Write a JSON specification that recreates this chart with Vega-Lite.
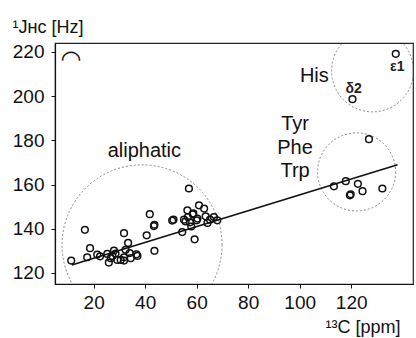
{
  "$schema": "https://vega.github.io/schema/vega-lite/v6.json",
  "width": 358,
  "height": 241,
  "autosize": {"type": "none"},
  "padding": {"left": 55, "top": 43, "right": 3, "bottom": 54},
  "background": "white",
  "config": {
    "view": {"stroke": "#222", "strokeWidth": 1.2},
    "font": "Liberation Sans",
    "axis": {
      "grid": false,
      "domainColor": "#111",
      "domainWidth": 1.2,
      "tickColor": "#111",
      "tickSize": 4,
      "labelFont": "Liberation Sans",
      "labelFontSize": 19,
      "labelColor": "#111",
      "titleFont": "Liberation Sans",
      "titleFontSize": 18,
      "titleFontWeight": "normal",
      "titleColor": "#111"
    }
  },
  "datasets": {
    "pts": [
      {"c": 11.3, "j": 125.6}, {"c": 16.6, "j": 139.5}, {"c": 18.6, "j": 131.2}, {"c": 17.5, "j": 127.1},
      {"c": 21.4, "j": 128.3}, {"c": 25.3, "j": 128.6}, {"c": 26.6, "j": 126.7}, {"c": 25.9, "j": 124.7},
      {"c": 27.9, "j": 130.1}, {"c": 27.3, "j": 127.7}, {"c": 29.2, "j": 125.9}, {"c": 31.8, "j": 138.0},
      {"c": 33.4, "j": 133.6}, {"c": 32.4, "j": 130.5}, {"c": 31.8, "j": 127.1}, {"c": 34.4, "j": 126.7},
      {"c": 37.0, "j": 127.7}, {"c": 36.6, "j": 128.4}, {"c": 30.5, "j": 125.9}, {"c": 31.8, "j": 125.6},
      {"c": 40.6, "j": 137.0}, {"c": 43.6, "j": 141.8}, {"c": 43.4, "j": 141.2}, {"c": 41.8, "j": 146.6},
      {"c": 43.6, "j": 130.0}, {"c": 50.5, "j": 143.7}, {"c": 51.0, "j": 144.1}, {"c": 54.4, "j": 138.5},
      {"c": 57.0, "j": 158.2}, {"c": 56.4, "j": 148.3}, {"c": 59.2, "j": 135.2}, {"c": 60.9, "j": 150.6},
      {"c": 62.9, "j": 149.1}, {"c": 58.5, "j": 146.5}, {"c": 56.6, "j": 145.3}, {"c": 55.7, "j": 143.3},
      {"c": 57.4, "j": 142.9}, {"c": 57.9, "j": 141.0}, {"c": 60.0, "j": 143.8}, {"c": 60.3, "j": 144.6},
      {"c": 63.5, "j": 145.6}, {"c": 64.2, "j": 142.6}, {"c": 65.2, "j": 144.1}, {"c": 66.7, "j": 145.3},
      {"c": 68.0, "j": 143.8}, {"c": 55.1, "j": 144.1}, {"c": 58.7, "j": 146.9}, {"c": 22.5, "j": 127.5},
      {"c": 28.5, "j": 128.8}, {"c": 34.0, "j": 129.0},
      {"c": 126.9, "j": 180.5}, {"c": 113.3, "j": 159.2}, {"c": 117.9, "j": 161.5}, {"c": 122.6, "j": 160.3},
      {"c": 119.5, "j": 155.1}, {"c": 119.8, "j": 155.6}, {"c": 124.4, "j": 157.0}, {"c": 132.1, "j": 158.2},
      {"c": 120.5, "j": 198.6}, {"c": 137.3, "j": 219.1}
    ],
    "circles": [
      {"group": "aliphatic", "c": 38.8, "j": 132.7},
      {"group": "aromatic", "c": 122.1, "j": 165.7},
      {"group": "his", "c": 128.3, "j": 211.4}
    ],
    "fit": [
      {"c": 11.5, "j": 123.6},
      {"c": 138.0, "j": 168.9}
    ],
    "labels": [
      {"kind": "big", "c": 39.7, "j": 175.1, "t": "aliphatic"},
      {"kind": "big", "c": 105.7, "j": 209.2, "t": "His"},
      {"kind": "big", "c": 98.2, "j": 187.3, "t": "Tyr"},
      {"kind": "big", "c": 98.2, "j": 176.4, "t": "Phe"},
      {"kind": "big", "c": 98.2, "j": 166.0, "t": "Trp"},
      {"kind": "small", "c": 137.9, "j": 213.0, "t": "ε1"},
      {"kind": "small", "c": 121.0, "j": 203.4, "t": "δ2"},
      {"kind": "panel", "c": 11.2, "j": 216.3, "t": "◠"}
    ]
  },
  "layer": [
    {
      "data": {"name": "circles"},
      "transform": [{"filter": "datum.group === 'aliphatic'"}],
      "mark": {"type": "point", "shape": "circle", "filled": false, "size": 25600, "stroke": "#555", "strokeWidth": 1, "strokeDash": [2, 2], "clip": true},
      "encoding": {
        "x": {"field": "c", "type": "quantitative", "scale": {"domain": [5, 144], "nice": false, "zero": false},
          "axis": {"values": [20, 40, 60, 80, 100, 120], "title": "¹³C [ppm]", "titleAnchor": "start", "titleAlign": "left", "titleX": 270, "titleY": 48, "titleBaseline": "alphabetic", "labelPadding": 5}},
        "y": {"field": "j", "type": "quantitative", "scale": {"domain": [115, 224], "nice": false, "zero": false},
          "axis": {"values": [120, 140, 160, 180, 200, 220], "title": "¹Jʜᴄ [Hz]", "titleAngle": 0, "titleAlign": "left", "titleX": -43, "titleY": -11, "titleBaseline": "alphabetic", "labelPadding": 7}}
      }
    },
    {
      "data": {"name": "circles"},
      "transform": [{"filter": "datum.group === 'aromatic'"}],
      "mark": {"type": "point", "shape": "circle", "filled": false, "size": 6100, "stroke": "#555", "strokeWidth": 1, "strokeDash": [2, 2], "clip": true},
      "encoding": {
        "x": {"field": "c", "type": "quantitative"},
        "y": {"field": "j", "type": "quantitative"}
      }
    },
    {
      "data": {"name": "circles"},
      "transform": [{"filter": "datum.group === 'his'"}],
      "mark": {"type": "point", "shape": "circle", "filled": false, "size": 6724, "stroke": "#555", "strokeWidth": 1, "strokeDash": [2, 2], "clip": true},
      "encoding": {
        "x": {"field": "c", "type": "quantitative"},
        "y": {"field": "j", "type": "quantitative"}
      }
    },
    {
      "data": {"name": "fit"},
      "mark": {"type": "line", "color": "#111", "strokeWidth": 1.6},
      "encoding": {
        "x": {"field": "c", "type": "quantitative"},
        "y": {"field": "j", "type": "quantitative"}
      }
    },
    {
      "data": {"name": "pts"},
      "mark": {"type": "point", "shape": "circle", "filled": false, "size": 45, "stroke": "#111", "strokeWidth": 1.5, "opacity": 1},
      "encoding": {
        "x": {"field": "c", "type": "quantitative"},
        "y": {"field": "j", "type": "quantitative"}
      }
    },
    {
      "data": {"name": "labels"},
      "transform": [{"filter": "datum.kind === 'big'"}],
      "mark": {"type": "text", "font": "Liberation Sans", "fontSize": 20, "color": "#111", "align": "center", "baseline": "middle"},
      "encoding": {
        "x": {"field": "c", "type": "quantitative"},
        "y": {"field": "j", "type": "quantitative"},
        "text": {"field": "t"}
      }
    },
    {
      "data": {"name": "labels"},
      "transform": [{"filter": "datum.kind === 'small'"}],
      "mark": {"type": "text", "font": "Liberation Sans", "fontSize": 14, "fontWeight": "bold", "color": "#222", "align": "center", "baseline": "middle"},
      "encoding": {
        "x": {"field": "c", "type": "quantitative"},
        "y": {"field": "j", "type": "quantitative"},
        "text": {"field": "t"}
      }
    },
    {
      "data": {"name": "labels"},
      "transform": [{"filter": "datum.kind === 'panel'"}],
      "mark": {"type": "text", "font": "DejaVu Sans", "fontSize": 24, "fontWeight": "bold", "color": "#111", "align": "center", "baseline": "middle"},
      "encoding": {
        "x": {"field": "c", "type": "quantitative"},
        "y": {"field": "j", "type": "quantitative"},
        "text": {"field": "t"}
      }
    }
  ]
}
